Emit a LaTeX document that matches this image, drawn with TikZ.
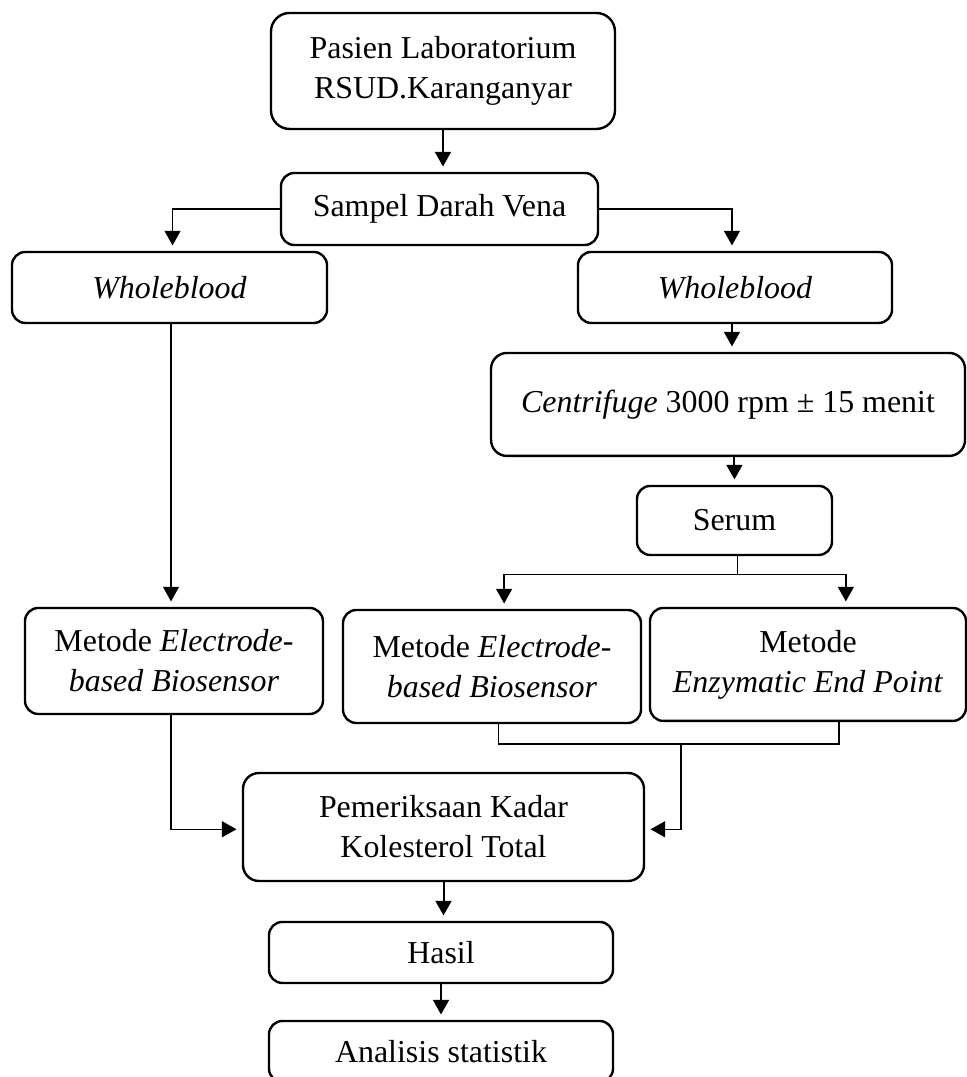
\documentclass[tikz,border=0pt]{standalone}
\usepackage{fontspec}
\setmainfont{Liberation Serif}
\usetikzlibrary{arrows.meta}

\begin{document}
\begin{tikzpicture}[
  box/.style={draw, line width=0.9pt, rounded corners=5pt, align=center, inner sep=2pt, font=\fontsize{12}{15}\selectfont},
  link/.style={line width=0.5pt},
  arr/.style={line width=0.75pt, -{Triangle[width=6pt,length=5.5pt]}, shorten >=2pt}
]

  \useasboundingbox (0,0) rectangle (12.766,-14.233);

  % ***************** TOP *****************
  \node[box, rounded corners=7pt, minimum width=4.546cm, minimum height=1.533cm] (pasien) at (5.854,-0.938) {Pasien Laboratorium\\RSUD.Karanganyar};
  \node[box, minimum width=4.189cm, minimum height=0.951cm] (sampel) at (5.808,-2.762) {Sampel Darah Vena};

  \draw[arr] (pasien.south) -- (pasien.south |- sampel.north);

  % ***************** LEFT BRANCH *****************
  \node[box, minimum width=4.163cm, minimum height=0.938cm] (wbL) at (2.240,-3.799) {\textit{Wholeblood}};
  \node[box, minimum width=3.938cm, minimum height=1.401cm] (metL) at (2.299,-8.735) {Metode \textit{Electrode-}\\\textit{based Biosensor}};

  \draw[arr, link] (sampel.west) -| ([xshift=0.04cm]wbL.north);
  \draw[arr, link] ([xshift=0.02cm]wbL.south) -- ([xshift=0.02cm]wbL.south |- metL.north);

  % ***************** RIGHT BRANCH *****************
  \node[box, minimum width=4.150cm, minimum height=0.938cm] (wbR) at (9.713,-3.799) {\textit{Wholeblood}};
  \node[box, rounded corners=6pt, minimum width=6.264cm, minimum height=1.361cm] (centri) at (9.621,-5.345) {\textit{Centrifuge} 3000 rpm ± 15 menit};
  \node[box, minimum width=2.577cm, minimum height=0.912cm] (serum) at (9.706,-6.878) {Serum};

  \draw[arr, link] (sampel.east) -| ([xshift=-0.04cm]wbR.north);
  \draw[arr] ([xshift=-0.04cm]wbR.south) -- ([xshift=-0.04cm]wbR.south |- centri.north);
  \draw[arr] (serum.north |- centri.south) -- (serum.north);

  \node[box, minimum width=3.938cm, minimum height=1.493cm] (metM) at (6.502,-8.808) {Metode \textit{Electrode-}\\\textit{based Biosensor}};
  \node[box, minimum width=4.176cm, minimum height=1.493cm] (metR) at (10.678,-8.781) {Metode\\\textit{Enzymatic End Point}};

  \draw[link] ([xshift=0.04cm]serum.south) -- ++(0,-0.24) coordinate (split);
  \draw[arr, link] (split) -| ([xshift=0.16cm]metM.north);
  \draw[arr, link] (split) -| ([xshift=0.50cm]metR.north);

  % ***************** BOTTOM *****************
  \node[box, rounded corners=6pt, minimum width=5.299cm, minimum height=1.427cm] (periksa) at (5.861,-10.929) {Pemeriksaan Kadar\\Kolesterol Total};
  \node[box, minimum width=4.546cm, minimum height=0.806cm] (hasil) at (5.828,-12.587) {Hasil};
  \node[box, minimum width=4.546cm, minimum height=0.806cm] (analisis) at (5.828,-13.896) {Analisis statistik};

  \coordinate (join) at (9.0,-9.832);
  \draw[link] ([xshift=0.09cm]metM.south) |- (join) -| ([xshift=0.41cm]metR.south);
  \draw[arr, link] (join) |- ([yshift=-0.03cm]periksa.east);
  \draw[arr, link] ([xshift=-0.04cm]metL.south) |- ([yshift=-0.03cm]periksa.west);

  \draw[arr] (periksa.south) -- (periksa.south |- hasil.north);
  \draw[arr] (hasil.south) -- (analisis.north);

\end{tikzpicture}
\end{document}
